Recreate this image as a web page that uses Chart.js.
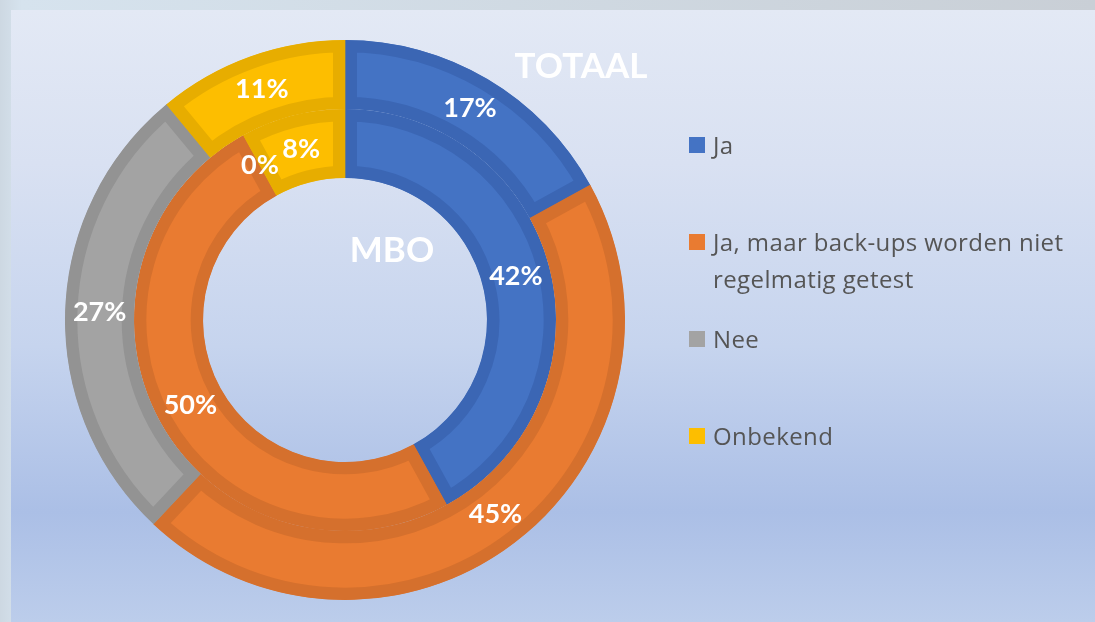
<!DOCTYPE html>
<html>
<head>
<meta charset="utf-8">
<script src="https://cdn.jsdelivr.net/npm/chart.js@4"></script>
<style>
  html, body { margin: 0; padding: 0; }
  body {
    width: 1095px; height: 622px; overflow: hidden; position: relative;
    background: linear-gradient(90deg, #cdd8e2 0%, #d6e3ee 2%, #c9cfd6 100%);
  }
  #panel {
    position: absolute; left: 11px; top: 10px; width: 1084px; height: 612px;
    background: linear-gradient(180deg, #e3e9f5 0%, #d9e1f2 25%, #c6d4ee 55%, #abbfe6 82%, #bccdeb 100%);
  }
  #wrap { position: absolute; left: 0; top: 0; width: 700px; height: 622px; }
  #legend { position: absolute; left: 689px; top: 0; font-family: "Open Sans", sans-serif; font-size: 24px; letter-spacing: 0.4px; color: #555555; }
  .item { position: absolute; left: 0; white-space: nowrap; line-height: 37px; }
  .sq { position: absolute; left: 0; top: 11px; width: 16px; height: 16px; }
  .txt { position: absolute; left: 24px; top: 0; }
</style>
</head>
<body>
<div id="panel"></div>
<div id="wrap"><canvas id="chart"></canvas></div>
<div id="legend"></div>
<script>
const labels = ["Ja", ["Ja, maar back-ups worden niet", "regelmatig getest"], "Nee", "Onbekend"];
const totaal = [17, 45, 27, 11];
const mbo = [42, 50, 0, 8];
const fillColors = ["#4473c4", "#e97b31", "#a3a3a3", "#fdbe00"];
const edgeColors = ["#3b66b4", "#d5702d", "#939393", "#e7ad00"];

// white percentage labels on each arc, plus the ring titles
const arcText = {
  id: "arcText",
  afterDatasetsDraw(chart) {
    const { ctx } = chart;
    ctx.save();
    ctx.fillStyle = "#ffffff";
    ctx.textAlign = "center";
    ctx.textBaseline = "middle";
    ctx.font = "bold 27px Lato";
    chart.data.datasets.forEach((ds, di) => {
      chart.getDatasetMeta(di).data.forEach((arc, i) => {
        const p = arc.getCenterPoint();
        ctx.fillText(ds.data[i] + "%", p.x, p.y);
      });
    });
    const a = chart.getDatasetMeta(0).data[0];
    ctx.font = "bold 35px Lato";
    ctx.fillText("TOTAAL", a.x + 236, a.y - 253);
    ctx.fillText("MBO", a.x + 47, a.y - 69);
    ctx.restore();
  }
};

new Chart(document.getElementById("chart"), {
  type: "doughnut",
  data: {
    labels,
    datasets: [
      { label: "TOTAAL", data: totaal, backgroundColor: fillColors, borderColor: edgeColors, borderWidth: 12, borderAlign: "inner" },
      { label: "MBO", data: mbo, backgroundColor: fillColors, borderColor: edgeColors, borderWidth: 12, borderAlign: "inner" }
    ]
  },
  options: {
    responsive: true,
    maintainAspectRatio: false,
    animation: false,
    cutout: "50.7%",
    layout: { padding: { left: 65, top: 40, right: 75, bottom: 22 } },
    plugins: { legend: { display: false }, tooltip: { enabled: false } }
  },
  plugins: [arcText]
});

// legend on the right, one slot per category
const legend = document.getElementById("legend");
labels.forEach((lab, i) => {
  const item = document.createElement("div");
  item.className = "item";
  item.style.top = (126 + i * 97) + "px";
  const sq = document.createElement("div");
  sq.className = "sq";
  sq.style.background = fillColors[i];
  const txt = document.createElement("div");
  txt.className = "txt";
  txt.innerHTML = [].concat(lab).join("<br>");
  item.appendChild(sq);
  item.appendChild(txt);
  legend.appendChild(item);
});
</script>
</body>
</html>
